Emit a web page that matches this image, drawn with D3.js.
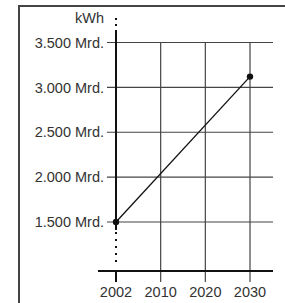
<!DOCTYPE html>
<html><head><meta charset="utf-8">
<script src="https://cdn.jsdelivr.net/npm/d3@7/dist/d3.min.js"></script>
<style>html,body{margin:0;padding:0;background:#fff;}svg{display:block;}</style>
</head><body>
<script>
const categories = ["2002", "2010", "2020", "2030"];
const dataYears = ["2002", "2030"];
const dataValues = [1.5, 3.12];
const yTicks = [1.5, 2.0, 2.5, 3.0, 3.5];
const yTickLabels = ["1.500 Mrd.", "2.000 Mrd.", "2.500 Mrd.", "3.000 Mrd.", "3.500 Mrd."];
const unitLabel = "kWh";

const W = 285, H = 303;
const svg = d3.select("body").append("svg").attr("width", W).attr("height", H);
const font = "'Liberation Sans', Arial, sans-serif";
const fs = 14.5;

const x = d3.scalePoint().domain(categories).range([116, 250]);
const y = d3.scaleLinear().domain([1.5, 3.5]).range([222, 42.5]);
const axisY = 271;

// frame
svg.append("line").attr("x1", 19).attr("x2", 19).attr("y1", 5).attr("y2", H).attr("stroke", "#444").attr("stroke-width", 2);
svg.append("line").attr("x1", 18).attr("x2", W).attr("y1", 6).attr("y2", 6).attr("stroke", "#444").attr("stroke-width", 2);

// horizontal gridlines
svg.append("g").selectAll("line").data(yTicks).join("line")
  .attr("x1", 107).attr("x2", 273)
  .attr("y1", d => y(d)).attr("y2", d => y(d))
  .attr("stroke", "#444").attr("stroke-width", 1.2);

// vertical gridlines
svg.append("g").selectAll("line").data(categories.slice(1)).join("line")
  .attr("x1", d => x(d)).attr("x2", d => x(d))
  .attr("y1", y(3.5)).attr("y2", 282)
  .attr("stroke", "#444").attr("stroke-width", 1.2);

// bottom axis line
svg.append("line").attr("x1", 98).attr("x2", 273).attr("y1", axisY).attr("y2", axisY).attr("stroke", "#111").attr("stroke-width", 2);

// y axis (at 2002)
const x0 = x(categories[0]);
svg.append("line").attr("x1", x0).attr("x2", x0).attr("y1", 31).attr("y2", 230).attr("stroke", "#111").attr("stroke-width", 2);
svg.append("line").attr("x1", x0).attr("x2", x0).attr("y1", 18).attr("y2", 31).attr("stroke", "#111").attr("stroke-width", 2).attr("stroke-dasharray", "2,4");
svg.append("line").attr("x1", x0).attr("x2", x0).attr("y1", 232).attr("y2", 266).attr("stroke", "#111").attr("stroke-width", 2).attr("stroke-dasharray", "2,5");
svg.append("line").attr("x1", x0).attr("x2", x0).attr("y1", axisY).attr("y2", 282).attr("stroke", "#111").attr("stroke-width", 2);

// y labels
svg.append("g").selectAll("text").data(yTicks).join("text")
  .attr("x", 104).attr("y", d => y(d) + 5.2)
  .attr("text-anchor", "end").attr("font-family", font).attr("font-size", fs).attr("fill", "#333")
  .text((d, i) => yTickLabels[i]);
svg.append("text").attr("x", 104).attr("y", 23).attr("text-anchor", "end")
  .attr("font-family", font).attr("font-size", fs).attr("fill", "#333").text(unitLabel);

// x labels
svg.append("g").selectAll("text").data(categories).join("text")
  .attr("x", d => x(d)).attr("y", 297)
  .attr("text-anchor", "middle").attr("font-family", font).attr("font-size", fs).attr("fill", "#333")
  .text(d => d);

// data line
const pts = dataYears.map((c, i) => [x(c), y(dataValues[i])]);
svg.append("path").attr("d", d3.line()(pts)).attr("fill", "none").attr("stroke", "#111").attr("stroke-width", 1.3);
svg.append("g").selectAll("circle").data(pts).join("circle")
  .attr("cx", d => d[0]).attr("cy", d => d[1]).attr("r", 3.2).attr("fill", "#111");
</script>
</body></html>
